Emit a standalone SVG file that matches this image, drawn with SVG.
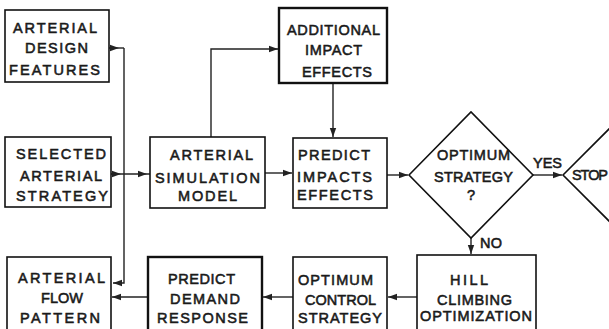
<svg xmlns="http://www.w3.org/2000/svg" width="609" height="329" viewBox="0 0 609 329">
<style>
.b{fill:#fff;stroke:#111;stroke-width:1.6}
.k{fill:#fff;stroke:#111;stroke-width:2.4}
.c{fill:none;stroke:#222;stroke-width:1.4}
text{font-family:"Liberation Sans",Arial,sans-serif;font-size:14.5px;font-weight:normal;fill:#1a1a1a;stroke:#1a1a1a;stroke-width:0.55}
</style>
<defs>
<marker id="a" markerUnits="userSpaceOnUse" markerWidth="10" markerHeight="8" refX="9" refY="4" orient="auto"><path d="M0,0.8 L9,4 L0,7.2 Z" fill="#222"/></marker>
</defs>
<rect width="609" height="329" fill="#fff"/>
<g id="connectors">
<path class="c" d="M109,48 H119 H124" marker-mid="url(#a)"/>
<path class="c" d="M124,48 V283 H113" marker-end="url(#a)"/>
<path class="c" d="M111,174 H121 H147 H150" marker-mid="url(#a)"/>
<path class="c" d="M211,137 V49 H278" marker-end="url(#a)"/>
<path class="c" d="M333,83 V137" marker-end="url(#a)"/>
<path class="c" d="M265,173 H292" marker-end="url(#a)"/>
<path class="c" d="M387,175 H408" marker-end="url(#a)"/>
<path class="c" d="M533,175 H562" marker-end="url(#a)"/>
<path class="c" d="M471,238 V254" marker-end="url(#a)"/>
<path class="c" d="M417,297 H388" marker-end="url(#a)"/>
<path class="c" d="M293,297 H263" marker-end="url(#a)"/>
<path class="c" d="M148,297 H112" marker-end="url(#a)"/>
</g>
<g id="design">
<rect class="b" x="5" y="10" width="104" height="72"/>
<text x="13" y="33" textLength="84" lengthAdjust="spacing">ARTERIAL</text>
<text x="25" y="53" textLength="63" lengthAdjust="spacing">DESIGN</text>
<text x="9" y="75" textLength="91" lengthAdjust="spacing">FEATURES</text>
</g>
<g id="additional">
<rect class="k" x="279" y="8" width="108" height="75"/>
<text x="287" y="35" textLength="93" lengthAdjust="spacing">ADDITIONAL</text>
<text x="305" y="55" textLength="57" lengthAdjust="spacing">IMPACT</text>
<text x="302" y="77" textLength="70" lengthAdjust="spacing">EFFECTS</text>
</g>
<g id="selected">
<rect class="b" x="5" y="137" width="106" height="70"/>
<text x="16" y="159" textLength="90" lengthAdjust="spacing">SELECTED</text>
<text x="20" y="181" textLength="82" lengthAdjust="spacing">ARTERIAL</text>
<text x="16" y="201" textLength="92" lengthAdjust="spacing">STRATEGY</text>
</g>
<g id="simulation">
<rect class="b" x="150" y="137" width="115" height="71"/>
<text x="170" y="160" textLength="83" lengthAdjust="spacing">ARTERIAL</text>
<text x="155" y="183" textLength="105" lengthAdjust="spacing">SIMULATION</text>
<text x="178" y="201" textLength="59" lengthAdjust="spacing">MODEL</text>
</g>
<g id="impacts">
<rect class="b" x="293" y="138" width="94" height="70"/>
<text x="298" y="160" textLength="72" lengthAdjust="spacing">PREDICT</text>
<text x="297" y="182" textLength="75" lengthAdjust="spacing">IMPACTS</text>
<text x="297" y="200" textLength="76" lengthAdjust="spacing">EFFECTS</text>
</g>
<g id="decision">
<polygon class="b" points="409,175 471,112 533,175 471,238"/>
<text x="437" y="160" textLength="73" lengthAdjust="spacing">OPTIMUM</text>
<text x="434" y="182" textLength="79" lengthAdjust="spacing">STRATEGY</text>
<text x="471" y="200" text-anchor="middle">?</text>
<text x="533" y="168" textLength="29" lengthAdjust="spacing">YES</text>
<text x="480" y="248" textLength="22" lengthAdjust="spacing">NO</text>
</g>
<g id="stop">
<polygon class="b" points="563,175 625,113 687,175 625,237"/>
<text x="572" y="180" textLength="36" lengthAdjust="spacing">STOP</text>
</g>
<g id="hill">
<rect class="b" x="417" y="255" width="119" height="90"/>
<text x="450" y="285" textLength="38" lengthAdjust="spacing">HILL</text>
<text x="437" y="305" textLength="75" lengthAdjust="spacing">CLIMBING</text>
<text x="420" y="321" textLength="112" lengthAdjust="spacing">OPTIMIZATION</text>
</g>
<g id="control">
<rect class="b" x="293" y="257" width="94" height="90"/>
<text x="298" y="285" textLength="75" lengthAdjust="spacing">OPTIMUM</text>
<text x="305" y="305" textLength="71" lengthAdjust="spacing">CONTROL</text>
<text x="298" y="323" textLength="84" lengthAdjust="spacing">STRATEGY</text>
</g>
<g id="demand">
<rect class="k" x="148" y="257" width="114" height="90"/>
<text x="168" y="284" textLength="67" lengthAdjust="spacing">PREDICT</text>
<text x="170" y="304" textLength="70" lengthAdjust="spacing">DEMAND</text>
<text x="157" y="323" textLength="91" lengthAdjust="spacing">RESPONSE</text>
</g>
<g id="flow">
<rect class="b" x="7" y="257" width="104" height="90"/>
<text x="18" y="283" textLength="87" lengthAdjust="spacing">ARTERIAL</text>
<text x="41" y="303" textLength="42" lengthAdjust="spacing">FLOW</text>
<text x="20" y="323" textLength="80" lengthAdjust="spacing">PATTERN</text>
</g>
</svg>
